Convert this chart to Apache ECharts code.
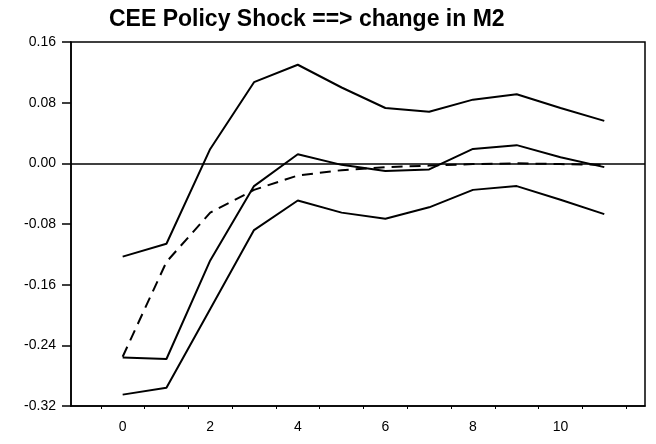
<!DOCTYPE html>
<html>
<head>
<meta charset="utf-8">
<script src="https://cdn.jsdelivr.net/npm/echarts@6/dist/echarts.min.js"></script>
<style>
  html, body { margin: 0; padding: 0; background: #fff; }
  #chart { width: 656px; height: 444px; }
</style>
</head>
<body>
<div id="chart"></div>
<script>
// periods after the shock
const periods = [0, 1, 2, 3, 4, 5, 6, 7, 8, 9, 10, 11];
// upper band
const upperBand = [-0.123, -0.106, 0.019, 0.107, 0.130, 0.100, 0.073, 0.068, 0.084, 0.091, 0.073, 0.056];
// solid middle line
const midLine = [-0.256, -0.258, -0.128, -0.030, 0.012, -0.002, -0.010, -0.008, 0.019, 0.024, 0.008, -0.005];
// lower band
const lowerBand = [-0.305, -0.296, -0.192, -0.088, -0.049, -0.065, -0.073, -0.058, -0.035, -0.030, -0.048, -0.067];
// dashed response
const dashedLine = [-0.255, -0.130, -0.065, -0.035, -0.016, -0.009, -0.005, -0.003, -0.001, 0.000, -0.001, -0.002];
const xTickLabels = [0, 2, 4, 6, 8, 10];
const xTickMarks = [-0.5, 0.5, 1.5, 2.5, 3.5, 4.5, 5.5, 6.5, 7.5, 8.5, 9.5, 10.5, 11.5];

const chart = echarts.init(document.getElementById('chart'));
const font = 'Liberation Sans';

function pairs(vals) {
  return periods.map(function (p, i) { return [p, vals[i]]; });
}

function lineSeries(vals, dashed) {
  return {
    type: 'line',
    data: pairs(vals),
    symbol: 'none',
    animation: false,
    lineStyle: { color: '#000', width: 2, type: dashed ? [11, 7] : 'solid' }
  };
}

const series = [
  lineSeries(upperBand),
  lineSeries(midLine),
  lineSeries(lowerBand),
  lineSeries(dashedLine, true)
];
// zero line
series[0].markLine = {
  silent: true,
  symbol: 'none',
  label: { show: false },
  lineStyle: { color: '#000', width: 1.5, type: 'solid' },
  data: [{ yAxis: 0 }]
};

const option = {
  backgroundColor: '#fff',
  animation: false,
  title: {
    text: 'CEE Policy Shock ==> change in M2',
    left: 104,
    top: 3,
    textStyle: { fontFamily: font, fontSize: 23, fontWeight: 'bold', color: '#000' }
  },
  grid: {
    left: 71, right: 11, top: 42, bottom: 38,
    show: true, borderColor: '#000', borderWidth: 1.5
  },
  xAxis: {
    type: 'value',
    min: -1.18,
    max: 11.93,
    axisLine: { onZero: false, lineStyle: { color: '#000', width: 1.5 } },
    axisTick: { show: true, customValues: xTickMarks, length: 3, lineStyle: { color: '#000' } },
    axisLabel: {
      customValues: xTickLabels,
      margin: 14,
      fontFamily: font, fontSize: 14, color: '#000'
    },
    splitLine: { show: false }
  },
  yAxis: {
    type: 'value',
    min: -0.32,
    max: 0.16,
    interval: 0.08,
    axisLine: { show: true, onZero: false, lineStyle: { color: '#000', width: 1.5 } },
    axisTick: { show: true, length: 9, lineStyle: { color: '#000', width: 1.5 } },
    axisLabel: {
      margin: 15,
      fontFamily: font, fontSize: 14, color: '#000',
      formatter: function (v) { return (Math.abs(v) < 1e-9 ? 0 : v).toFixed(2); }
    },
    splitLine: { show: false }
  },
  series: series
};

chart.setOption(option);
</script>
</body>
</html>
